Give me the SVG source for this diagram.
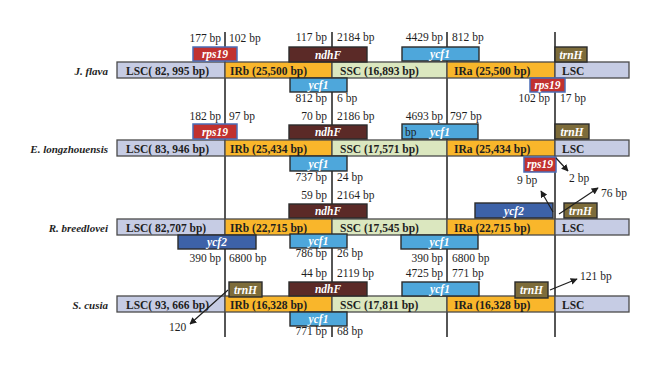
<svg xmlns="http://www.w3.org/2000/svg" width="660" height="370" viewBox="0 0 660 370">
<style>
text{font-family:"Liberation Serif","Times New Roman",serif}
.seg{stroke:#4a4a4a;stroke-width:1.3}
.lsc{fill:#c6cce4}
.ir{fill:#f9b62b}
.ssc{fill:#dbe7bf}
.st{font-size:11.5px;font-weight:bold;fill:#1e1e1e}
.box{stroke:#2b2b2b;stroke-width:1.4}
.rps19{fill:#c1312f;stroke:#4a6cb6;stroke-width:1.5}
.ndhF{fill:#5b2a27}
.ycf1{fill:#4ea7db}
.ycf2{fill:#3d62a8}
.trnH{fill:#7d6c3a}
.gt{font-size:11.5px;font-weight:bold;font-style:italic;fill:#fff;text-anchor:middle}
.bp{font-size:11.5px;fill:#1e1e1e}
.e{text-anchor:end}
.sp{font-size:11px;font-weight:bold;font-style:italic;fill:#1e1e1e;text-anchor:end}
.vl{stroke:#1e1e1e;stroke-width:1.5}
.ar{stroke:#1e1e1e;stroke-width:1.2;fill:none;marker-end:url(#ah)}
</style>
<defs>
<marker id="ah" viewBox="0 0 10 10" refX="9" refY="5" markerWidth="7" markerHeight="7" orient="auto" markerUnits="userSpaceOnUse">
<path d="M0,0 L10,5 L0,10 Z" fill="#1e1e1e"/>
</marker>
</defs>
<rect width="660" height="370" fill="#fff"/>
<g id="junction-lines">
<line class="vl" x1="225" y1="32" x2="225" y2="337"/>
<line class="vl" x1="332" y1="32" x2="332" y2="337"/>
<line class="vl" x1="447" y1="32" x2="447" y2="337"/>
<line class="vl" x1="555" y1="32" x2="555" y2="337"/>
</g>

<!-- Row 1 -->
<g id="row1-jflava">
<text class="sp" x="108" y="74.5">J. flava</text>
<g id="r1-bar">
<rect class="seg lsc" x="117" y="62" width="108" height="16"/>
<rect class="seg ir" x="225" y="62" width="107" height="16"/>
<rect class="seg ssc" x="332" y="62" width="115" height="16"/>
<rect class="seg ir" x="447" y="62" width="108" height="16"/>
<rect class="seg lsc" x="555" y="62" width="74" height="16"/>
<text class="st" x="126" y="74.5">LSC( 82, 995 bp)</text>
<text class="st" x="230" y="74.5">IRb (25,500 bp)</text>
<text class="st" x="340" y="74.5">SSC (16,893 bp)</text>
<text class="st" x="454" y="74.5">IRa (25,500 bp)</text>
<text class="st" x="562" y="74.5">LSC</text>
</g>
<g id="r1-rps19a"><rect class="rps19" x="193" y="47" width="44" height="14"/><text class="gt" x="215" y="58">rps19</text></g>
<g id="r1-ndhF"><rect class="box ndhF" x="289" y="47" width="78" height="15"/><text class="gt" x="328" y="58.5">ndhF</text></g>
<g id="r1-ycf1a"><rect class="box ycf1" x="402" y="47" width="77" height="14"/><text class="gt" x="440" y="58">ycf1</text></g>
<g id="r1-trnH"><rect class="box trnH" x="555" y="47" width="32" height="15"/><text class="gt" x="571" y="58.5">trnH</text></g>
<g id="r1-ycf1b"><rect class="box ycf1" x="290" y="78" width="57" height="14"/><text class="gt" x="318.5" y="89">ycf1</text></g>
<g id="r1-rps19b"><rect class="rps19" x="530" y="78" width="35" height="14"/><text class="gt" x="547.5" y="89">rps19</text></g>
<text class="bp e" x="221" y="42">177 bp</text><text class="bp" x="229" y="42">102 bp</text>
<text class="bp e" x="327" y="41">117 bp</text><text class="bp" x="337" y="41">2184 bp</text>
<text class="bp e" x="443" y="41">4429 bp</text><text class="bp" x="452" y="41">812 bp</text>
<text class="bp e" x="327" y="102">812 bp</text><text class="bp" x="337" y="102">6 bp</text>
<text class="bp e" x="550" y="102">102 bp</text><text class="bp" x="560" y="102">17 bp</text>
</g>

<!-- Row 2 -->
<g id="row2-elongzhouensis">
<text class="sp" x="108" y="152.5">E. longzhouensis</text>
<g id="r2-bar">
<rect class="seg lsc" x="117" y="140" width="108" height="16"/>
<rect class="seg ir" x="225" y="140" width="107" height="16"/>
<rect class="seg ssc" x="332" y="140" width="115" height="16"/>
<rect class="seg ir" x="447" y="140" width="108" height="16"/>
<rect class="seg lsc" x="555" y="140" width="74" height="16"/>
<text class="st" x="126" y="152.5">LSC( 83, 946 bp)</text>
<text class="st" x="230" y="152.5">IRb (25,434 bp)</text>
<text class="st" x="340" y="152.5">SSC (17,571 bp)</text>
<text class="st" x="454" y="152.5">IRa (25,434 bp)</text>
<text class="st" x="562" y="152.5">LSC</text>
</g>
<g id="r2-rps19a"><rect class="rps19" x="193" y="124" width="44" height="15"/><text class="gt" x="215" y="135.5">rps19</text></g>
<g id="r2-ndhF"><rect class="box ndhF" x="289" y="125" width="78" height="14"/><text class="gt" x="328" y="136">ndhF</text></g>
<g id="r2-ycf1a"><rect class="box ycf1" x="402" y="124" width="76" height="15"/><text class="bp" x="405" y="135.5">bp</text><text class="gt" x="440" y="135.5">ycf1</text></g>
<g id="r2-trnH"><rect class="box trnH" x="555" y="124" width="34" height="15"/><text class="gt" x="572" y="135.5">trnH</text></g>
<g id="r2-ycf1b"><rect class="box ycf1" x="290" y="156" width="57" height="15"/><text class="gt" x="318.5" y="167.5">ycf1</text></g>
<g id="r2-rps19b"><rect class="rps19" x="524" y="157" width="32" height="15"/><text class="gt" x="540" y="168">rps19</text></g>
<text class="bp e" x="221" y="120">182 bp</text><text class="bp" x="229" y="120">97 bp</text>
<text class="bp e" x="327" y="120">70 bp</text><text class="bp" x="337" y="120">2186 bp</text>
<text class="bp e" x="443" y="120">4693 bp</text><text class="bp" x="450" y="120">797 bp</text>
<text class="bp e" x="327" y="180.5">737 bp</text><text class="bp" x="337" y="180.5">24 bp</text>
<text class="bp" x="517" y="184">9 bp</text>
<text class="bp" x="569" y="182">2 bp</text>
</g>

<!-- Row 3 -->
<g id="row3-rbreedlovei">
<text class="sp" x="108" y="231.5">R. breedlovei</text>
<g id="r3-bar">
<rect class="seg lsc" x="117" y="219" width="108" height="16"/>
<rect class="seg ir" x="225" y="219" width="107" height="16"/>
<rect class="seg ssc" x="332" y="219" width="115" height="16"/>
<rect class="seg ir" x="447" y="219" width="108" height="16"/>
<rect class="seg lsc" x="555" y="219" width="74" height="16"/>
<text class="st" x="126" y="231.5">LSC( 82,707 bp)</text>
<text class="st" x="230" y="231.5">IRb (22,715 bp)</text>
<text class="st" x="340" y="231.5">SSC (17,545 bp)</text>
<text class="st" x="454" y="231.5">IRa (22,715 bp)</text>
<text class="st" x="562" y="231.5">LSC</text>
</g>
<g id="r3-ndhF"><rect class="box ndhF" x="289" y="204" width="78" height="14"/><text class="gt" x="328" y="215">ndhF</text></g>
<g id="r3-ycf2a"><rect class="box ycf2" x="178" y="235" width="78" height="14"/><text class="gt" x="217" y="246">ycf2</text></g>
<g id="r3-ycf1a"><rect class="box ycf1" x="290" y="234" width="57" height="14"/><text class="gt" x="318.5" y="245">ycf1</text></g>
<g id="r3-ycf2b"><rect class="box ycf2" x="475" y="203" width="78" height="15"/><text class="gt" x="514" y="214.5">ycf2</text></g>
<g id="r3-trnH"><rect class="box trnH" x="564" y="203" width="33" height="15"/><text class="gt" x="580.5" y="214.5">trnH</text></g>
<g id="r3-ycf1b"><rect class="box ycf1" x="401" y="235" width="77" height="14"/><text class="gt" x="439.5" y="246">ycf1</text></g>
<text class="bp e" x="327" y="198.5">59 bp</text><text class="bp" x="337" y="198.5">2164 bp</text>
<text class="bp" x="601" y="197">76 bp</text>
<text class="bp e" x="221" y="262">390 bp</text><text class="bp" x="229" y="262">6800 bp</text>
<text class="bp e" x="327" y="257">786 bp</text><text class="bp" x="337" y="257">26 bp</text>
<text class="bp e" x="443" y="261.5">390 bp</text><text class="bp" x="452" y="261.5">6800 bp</text>
</g>

<!-- Row 4 -->
<g id="row4-scusia">
<text class="sp" x="108" y="308.5">S. cusia</text>
<g id="r4-bar">
<rect class="seg lsc" x="117" y="296" width="108" height="16"/>
<rect class="seg ir" x="225" y="296" width="107" height="16"/>
<rect class="seg ssc" x="332" y="296" width="115" height="16"/>
<rect class="seg ir" x="447" y="296" width="108" height="16"/>
<rect class="seg lsc" x="555" y="296" width="74" height="16"/>
<text class="st" x="126" y="308.5">LSC( 93, 666 bp)</text>
<text class="st" x="230" y="308.5">IRb (16,328 bp)</text>
<text class="st" x="340" y="308.5">SSC (17,811 bp)</text>
<text class="st" x="454" y="308.5">IRa (16,328 bp)</text>
<text class="st" x="562" y="308.5">LSC</text>
</g>
<g id="r4-trnHa"><rect class="box trnH" x="229" y="282" width="33" height="15"/><text class="gt" x="245.5" y="293.5">trnH</text></g>
<g id="r4-ndhF"><rect class="box ndhF" x="289" y="282" width="78" height="14"/><text class="gt" x="328" y="293">ndhF</text></g>
<g id="r4-ycf1a"><rect class="box ycf1" x="290" y="312" width="57" height="14"/><text class="gt" x="318.5" y="323">ycf1</text></g>
<g id="r4-ycf1b"><rect class="box ycf1" x="402" y="282" width="77" height="14"/><text class="gt" x="440" y="293">ycf1</text></g>
<g id="r4-trnHb"><rect class="box trnH" x="515" y="282" width="33" height="16"/><text class="gt" x="531.5" y="293.5">trnH</text></g>
<text class="bp e" x="327" y="276.5">44 bp</text><text class="bp" x="337" y="276.5">2119 bp</text>
<text class="bp e" x="443" y="276.5">4725 bp</text><text class="bp" x="452" y="276.5">771 bp</text>
<text class="bp" x="580" y="280">121 bp</text>
<text class="bp e" x="327" y="335">771 bp</text><text class="bp" x="337" y="335">68 bp</text>
<text class="bp" x="169" y="331">120</text>
</g>

<g id="connectors">
<line class="ar" x1="556" y1="158" x2="568" y2="171"/>
<line class="ar" x1="553" y1="212" x2="541" y2="191"/>
<line class="ar" x1="559" y1="214" x2="598" y2="188"/>
<line class="ar" x1="228" y1="290" x2="190" y2="324"/>
<line class="ar" x1="550" y1="290" x2="577" y2="279"/>
</g>
</svg>
